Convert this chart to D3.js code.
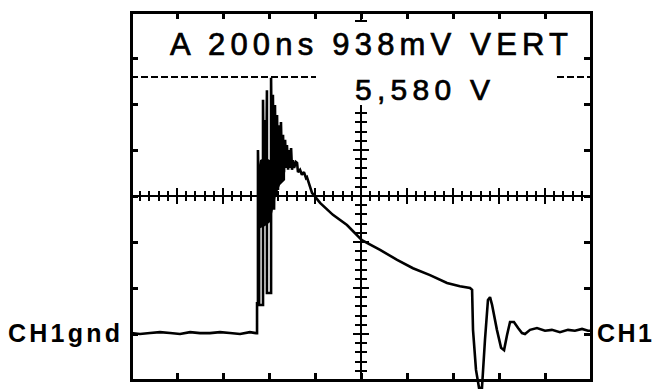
<!DOCTYPE html>
<html>
<head>
<meta charset="utf-8">
<script src="https://cdn.jsdelivr.net/npm/d3@7"></script>
<style>
  body { margin: 0; background: #fff; }
  text { font-family: "Liberation Sans", Arial, sans-serif; fill: #000; }
</style>
</head>
<body>
<div id="chart"></div>
<script>
// trace samples: time in ns, level in volts (ground = 0)
var timeNs = [
  // baseline
  -1000, -961, -917, -874, -830, -787, -743, -700, -657, -613, -570, -526, -483, -457,
  // step and ringing burst
  -452, -452, -448, -448, -443, -443, -426, -426, -422, -417, -413, -409, -409, -391, -391,
  -387, -383, -378, -374, -370, -365, -361, -357, -352, -348, -343, -339, -335, -330, -326,
  -322, -317, -313, -309, -304, -300, -296, -291, -283, -278, -274, -265, -257, -248, -239, -235,
  // decay
  -213, -178, -122, -61, 4, 83, 157, 226, 300, 374, 430, 474,
  // fall and undershoot
  483, 487, 500, 513, 526, 539, 552, 561, 570, 591, 609, 622, 635, 648, 665, 683,
  700, 713, 735, 765, 800, 830, 865, 900, 930, 961, 987, 1000
];
var volts = [
  0.02, 0.00, 0.02, 0.04, 0.02, 0.00, 0.04, 0.02, 0.02, 0.04, 0.02, 0.00, 0.04, 0.02,
  0.02, 0.67, 0.67, 4.00, 2.37, 0.63, 0.63, 5.09, 2.37, 4.65, 2.59, 5.30, 0.89, 0.89, 5.57,
  3.35, 5.20, 2.70, 4.98, 3.02, 4.76, 3.13, 4.54, 3.35, 4.61, 3.46, 4.33, 3.52, 4.22, 3.61,
  4.11, 3.57, 4.00, 3.61, 4.04, 3.57, 3.78, 3.61, 3.74, 3.72, 3.52, 3.57, 3.46, 3.52, 3.39, 3.41,
  3.07, 2.85, 2.59, 2.37, 2.04, 1.83, 1.61, 1.43, 1.28, 1.11, 1.04, 1.00,
  0.96, 0.09, -0.78, -1.17, -1.17, -0.13, 0.74, 0.80, 0.63, 0.09, -0.30, -0.35, -0.02, 0.26, 0.26, 0.13,
  0.02, 0.00, 0.09, 0.13, 0.07, 0.09, 0.04, 0.09, 0.07, 0.11, 0.07, 0.07
];

// dense part of the ringing (overlapping sweeps), min / max envelope
var envTimeNs = [-452, -439, -417, -396, -383, -370, -352, -330];
var envHigh   = [3.46, 3.78, 3.83, 3.78, 3.74, 3.67, 3.61, 3.61];
var envLow    = [2.37, 2.30, 2.35, 2.43, 2.70, 3.02, 3.24, 3.35];

var timeDomain = [-1000, 1000];   // 200 ns / div, 10 div
var voltDomain = [-1, 7];         // 1 V / div, 8 div
var cursorVolts = 5.58;
var headerText = "A 200ns 938mV VERT";
var cursorText = "5,580 V";
var leftLabel = "CH1gnd";
var rightLabel = "CH1";

var width = 654, height = 392;
var box = { left: 131, right: 591, top: 12, bottom: 380 };

var x = d3.scaleLinear().domain(timeDomain).range([box.left, box.right]);
var y = d3.scaleLinear().domain(voltDomain).range([box.bottom, box.top]);

var svg = d3.select("#chart").append("svg")
    .attr("width", width)
    .attr("height", height);

var majorX = d3.range(timeDomain[0] + 200, timeDomain[1], 200);
var majorY = d3.range(voltDomain[0] + 1, voltDomain[1], 1);
var minorX = d3.range(timeDomain[0], timeDomain[1] + 1, 40);
var minorY = d3.range(voltDomain[0] * 10, voltDomain[1] * 10 + 1, 2).map(function(v) { return v / 10; });

// frame edge ticks, pointing inward
function edgeAxis(axis, tx, ty) {
    var g = svg.append("g")
        .attr("transform", "translate(" + tx + "," + ty + ")")
        .call(axis.tickSize(7).tickFormat(""));
    g.select(".domain").remove();
    g.selectAll("line").attr("stroke", "#000").attr("stroke-width", 3).attr("shape-rendering", "crispEdges");
}
edgeAxis(d3.axisBottom(x).tickValues(majorX), 0, box.top);
edgeAxis(d3.axisTop(x).tickValues(majorX), 0, box.bottom);
edgeAxis(d3.axisRight(y).tickValues(majorY), box.left, 0);
edgeAxis(d3.axisLeft(y).tickValues(majorY), box.right, 0);

// centre graticule
var cx = x(0), cy = y(3);
var cross = svg.append("g").attr("stroke", "#000").attr("stroke-width", 2).attr("shape-rendering", "crispEdges");
cross.append("line").attr("x1", box.left).attr("x2", box.right).attr("y1", cy).attr("y2", cy);
cross.append("line").attr("x1", cx).attr("x2", cx).attr("y1", box.top).attr("y2", box.bottom);

cross.selectAll("xtick")
    .data(minorX)
    .enter()
    .append("line")
    .attr("x1", function(d) { return x(d); })
    .attr("x2", function(d) { return x(d); })
    .attr("y1", function(d) { return cy - (d % 200 === 0 ? 8 : 5); })
    .attr("y2", function(d) { return cy + (d % 200 === 0 ? 8 : 5); });

cross.selectAll("ytick")
    .data(minorY)
    .enter()
    .append("line")
    .attr("y1", function(d) { return y(d); })
    .attr("y2", function(d) { return y(d); })
    .attr("x1", function(d) { return cx - (Math.abs(d - Math.round(d)) < 0.01 ? 8 : 6); })
    .attr("x2", function(d) { return cx + (Math.abs(d - Math.round(d)) < 0.01 ? 8 : 6); });

// readout panels blank out the graticule behind the text
svg.append("rect").attr("x", 165).attr("y", 22).attr("width", 410).attr("height", 40).attr("fill", "#fff");
svg.append("rect").attr("x", 316).attr("y", 62).attr("width", 241).attr("height", 43).attr("fill", "#fff");

// frame
svg.append("rect")
    .attr("x", box.left)
    .attr("y", box.top)
    .attr("width", box.right - box.left)
    .attr("height", box.bottom - box.top)
    .attr("fill", "none")
    .attr("stroke", "#000")
    .attr("stroke-width", 3)
    .attr("shape-rendering", "crispEdges");

// voltage cursor
var cursorY = Math.round(y(cursorVolts));
[[box.left, 316], [557, box.right]].forEach(function(seg) {
    svg.append("line")
        .attr("x1", seg[0]).attr("x2", seg[1])
        .attr("y1", cursorY).attr("y2", cursorY)
        .attr("stroke", "#000").attr("stroke-width", 1.6)
        .attr("stroke-dasharray", "7,3")
        .attr("shape-rendering", "crispEdges");
});

// the trace
var envelope = envTimeNs.map(function(t, i) { return [t, envLow[i], envHigh[i]]; });
svg.append("path")
    .datum(envelope)
    .attr("d", d3.area()
        .x(function(d) { return x(d[0]); })
        .y0(function(d) { return y(d[1]); })
        .y1(function(d) { return y(d[2]); }))
    .attr("fill", "#000");

var points = timeNs.map(function(t, i) { return [t, volts[i]]; });
var line = d3.line()
    .x(function(d) { return x(d[0]); })
    .y(function(d) { return y(d[1]); });

svg.append("path")
    .datum(points)
    .attr("d", line)
    .attr("fill", "none")
    .attr("stroke", "#000")
    .attr("stroke-width", 2.6)
    .attr("stroke-linejoin", "miter")
    .attr("stroke-miterlimit", 2);

// labels
svg.append("text")
    .attr("x", 170).attr("y", 55)
    .style("font-size", "31px")
    .style("stroke", "#000").style("stroke-width", 0.7)
    .attr("textLength", 398).attr("lengthAdjust", "spacing")
    .text(headerText);

svg.append("text")
    .attr("x", 355).attr("y", 100)
    .style("font-size", "30px")
    .style("stroke", "#000").style("stroke-width", 0.7)
    .attr("textLength", 135).attr("lengthAdjust", "spacing")
    .text(cursorText);

svg.append("text")
    .attr("x", 8).attr("y", 342)
    .style("font-family", "'Liberation Sans Narrow', 'Liberation Sans', sans-serif")
    .style("font-size", "25px").style("font-weight", "bold")
    .attr("textLength", 112).attr("lengthAdjust", "spacing")
    .text(leftLabel);

svg.append("text")
    .attr("x", 597).attr("y", 342)
    .style("font-family", "'Liberation Sans Narrow', 'Liberation Sans', sans-serif")
    .style("font-size", "25px").style("font-weight", "bold")
    .attr("textLength", 55).attr("lengthAdjust", "spacing")
    .text(rightLabel);
</script>
</body>
</html>
